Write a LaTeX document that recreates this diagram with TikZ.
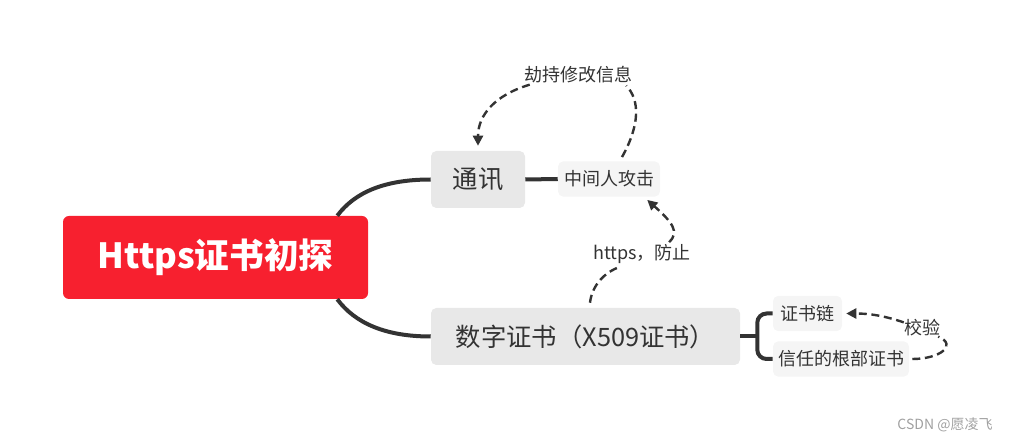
\documentclass[tikz,border=0pt]{standalone}
\usepackage{fontspec}
\setmainfont{Noto Sans CJK SC}
\usetikzlibrary{arrows.meta,calc}
\definecolor{rootred}{HTML}{F7202F}
\definecolor{boxgray}{HTML}{E8E8E8}
\definecolor{boxlight}{HTML}{F5F5F5}
\definecolor{linec}{HTML}{333333}
\definecolor{txt}{HTML}{333333}
\definecolor{wm}{HTML}{A0A0A0}
\begin{document}
\begin{tikzpicture}[x=0.75pt,y=-0.75pt,
 rootbox/.style={fill=rootred, rounded corners=4.5pt, minimum width=228.75pt, minimum height=62.25pt, inner sep=0pt, text=white, font=\fontsize{26}{30}\selectfont\bfseries},
 mainbox/.style={fill=boxgray, rounded corners=4pt, minimum height=42.75pt, inner sep=0pt, text=txt, font=\fontsize{19}{22}\selectfont},
 subbox/.style={fill=boxlight, rounded corners=4pt, minimum height=26.5pt, inner sep=0pt, text=txt, font=\fontsize{13.5}{16}\selectfont},
 lbl/.style={inner sep=0pt, text=txt, font=\fontsize{13.5}{16}\selectfont},
 branch/.style={draw=linec, line width=3pt},
 rel/.style={draw=linec, line width=1.8pt, dash pattern=on 6pt off 3.5pt},
 relarrow/.style={rel, -{Triangle[length=7.5pt,width=7.5pt]}}
]
\useasboundingbox (0,0) rectangle (1011,441);

% nodes
\node[rootbox] (root) at (215.5,257.5) {Https证书初探};
\node[mainbox, minimum width=70.5pt] (tx) at (478,179.5) {通讯};
\node[subbox, minimum width=76.5pt] (zjr) at (609,179) {中间人攻击};
\node[mainbox, minimum width=231.75pt] (szzs) at (585.5,336.5) {数字证书（X509证书）};
\node[subbox, minimum width=51.75pt] (zsl) at (807.5,313.5) {证书链};
\node[subbox, minimum width=102pt] (gbzs) at (841,359) {信任的根部证书};

% labels
\node[lbl] (l1) at (578,75) {劫持修改信息};
\node[lbl] (l2) at (642,254) {https，防止};
\node[lbl] (l3) at (922,328) {校验};
\node[inner sep=0pt, text=wm, font=\fontsize{10.5}{12}\selectfont] (wmk) at (945,425) {CSDN @愿凌飞};

% branches
\draw[branch] ($(root.north east)+(-31,0)$) .. controls (355,192) and (385,179.5) .. (tx.west);
\draw[branch] ($(root.south east)+(-31,0)$) .. controls (355,323) and (385,336.5) .. (szzs.west);
\draw[branch] (tx.east) -- (zjr.west);
\coordinate (br) at ($(szzs.east)+(17,0)$);
\draw[branch] (szzs.east) -- (br);
\draw[branch, rounded corners=7pt] (zsl.west) -| (br) |- (gbzs.west);

% relations
\draw[rel] ($(zjr.north)+(13,-4)$) .. controls (640,125) and (640,100) .. ($(l1.south east)+(-6,2)$);
\draw[relarrow] ($(l1.south west)+(6,1)$) .. controls (495,95) and (478,115) .. ($(tx.north)+(0,-5)$);

\draw[rel] ($(szzs.north)+(4.5,-5)$) .. controls (592,285) and (605,272) .. ($(l2.south west)+(27,3)$);
\draw[relarrow] ($(l2.north east)+(-22,-2)$) .. controls (680,232) and (672,222) .. ($(zjr.south east)+(-13,3)$);

\draw[rel] ($(gbzs.east)+(3,0)$) .. controls (940,359) and (958,345) .. ($(l3.south east)+(-2,0)$);
\draw[relarrow] ($(l3.north west)+(0,3)$) .. controls (885,316) and (870,313.5) .. ($(zsl.east)+(4,0)$);
\end{tikzpicture}
\end{document}
